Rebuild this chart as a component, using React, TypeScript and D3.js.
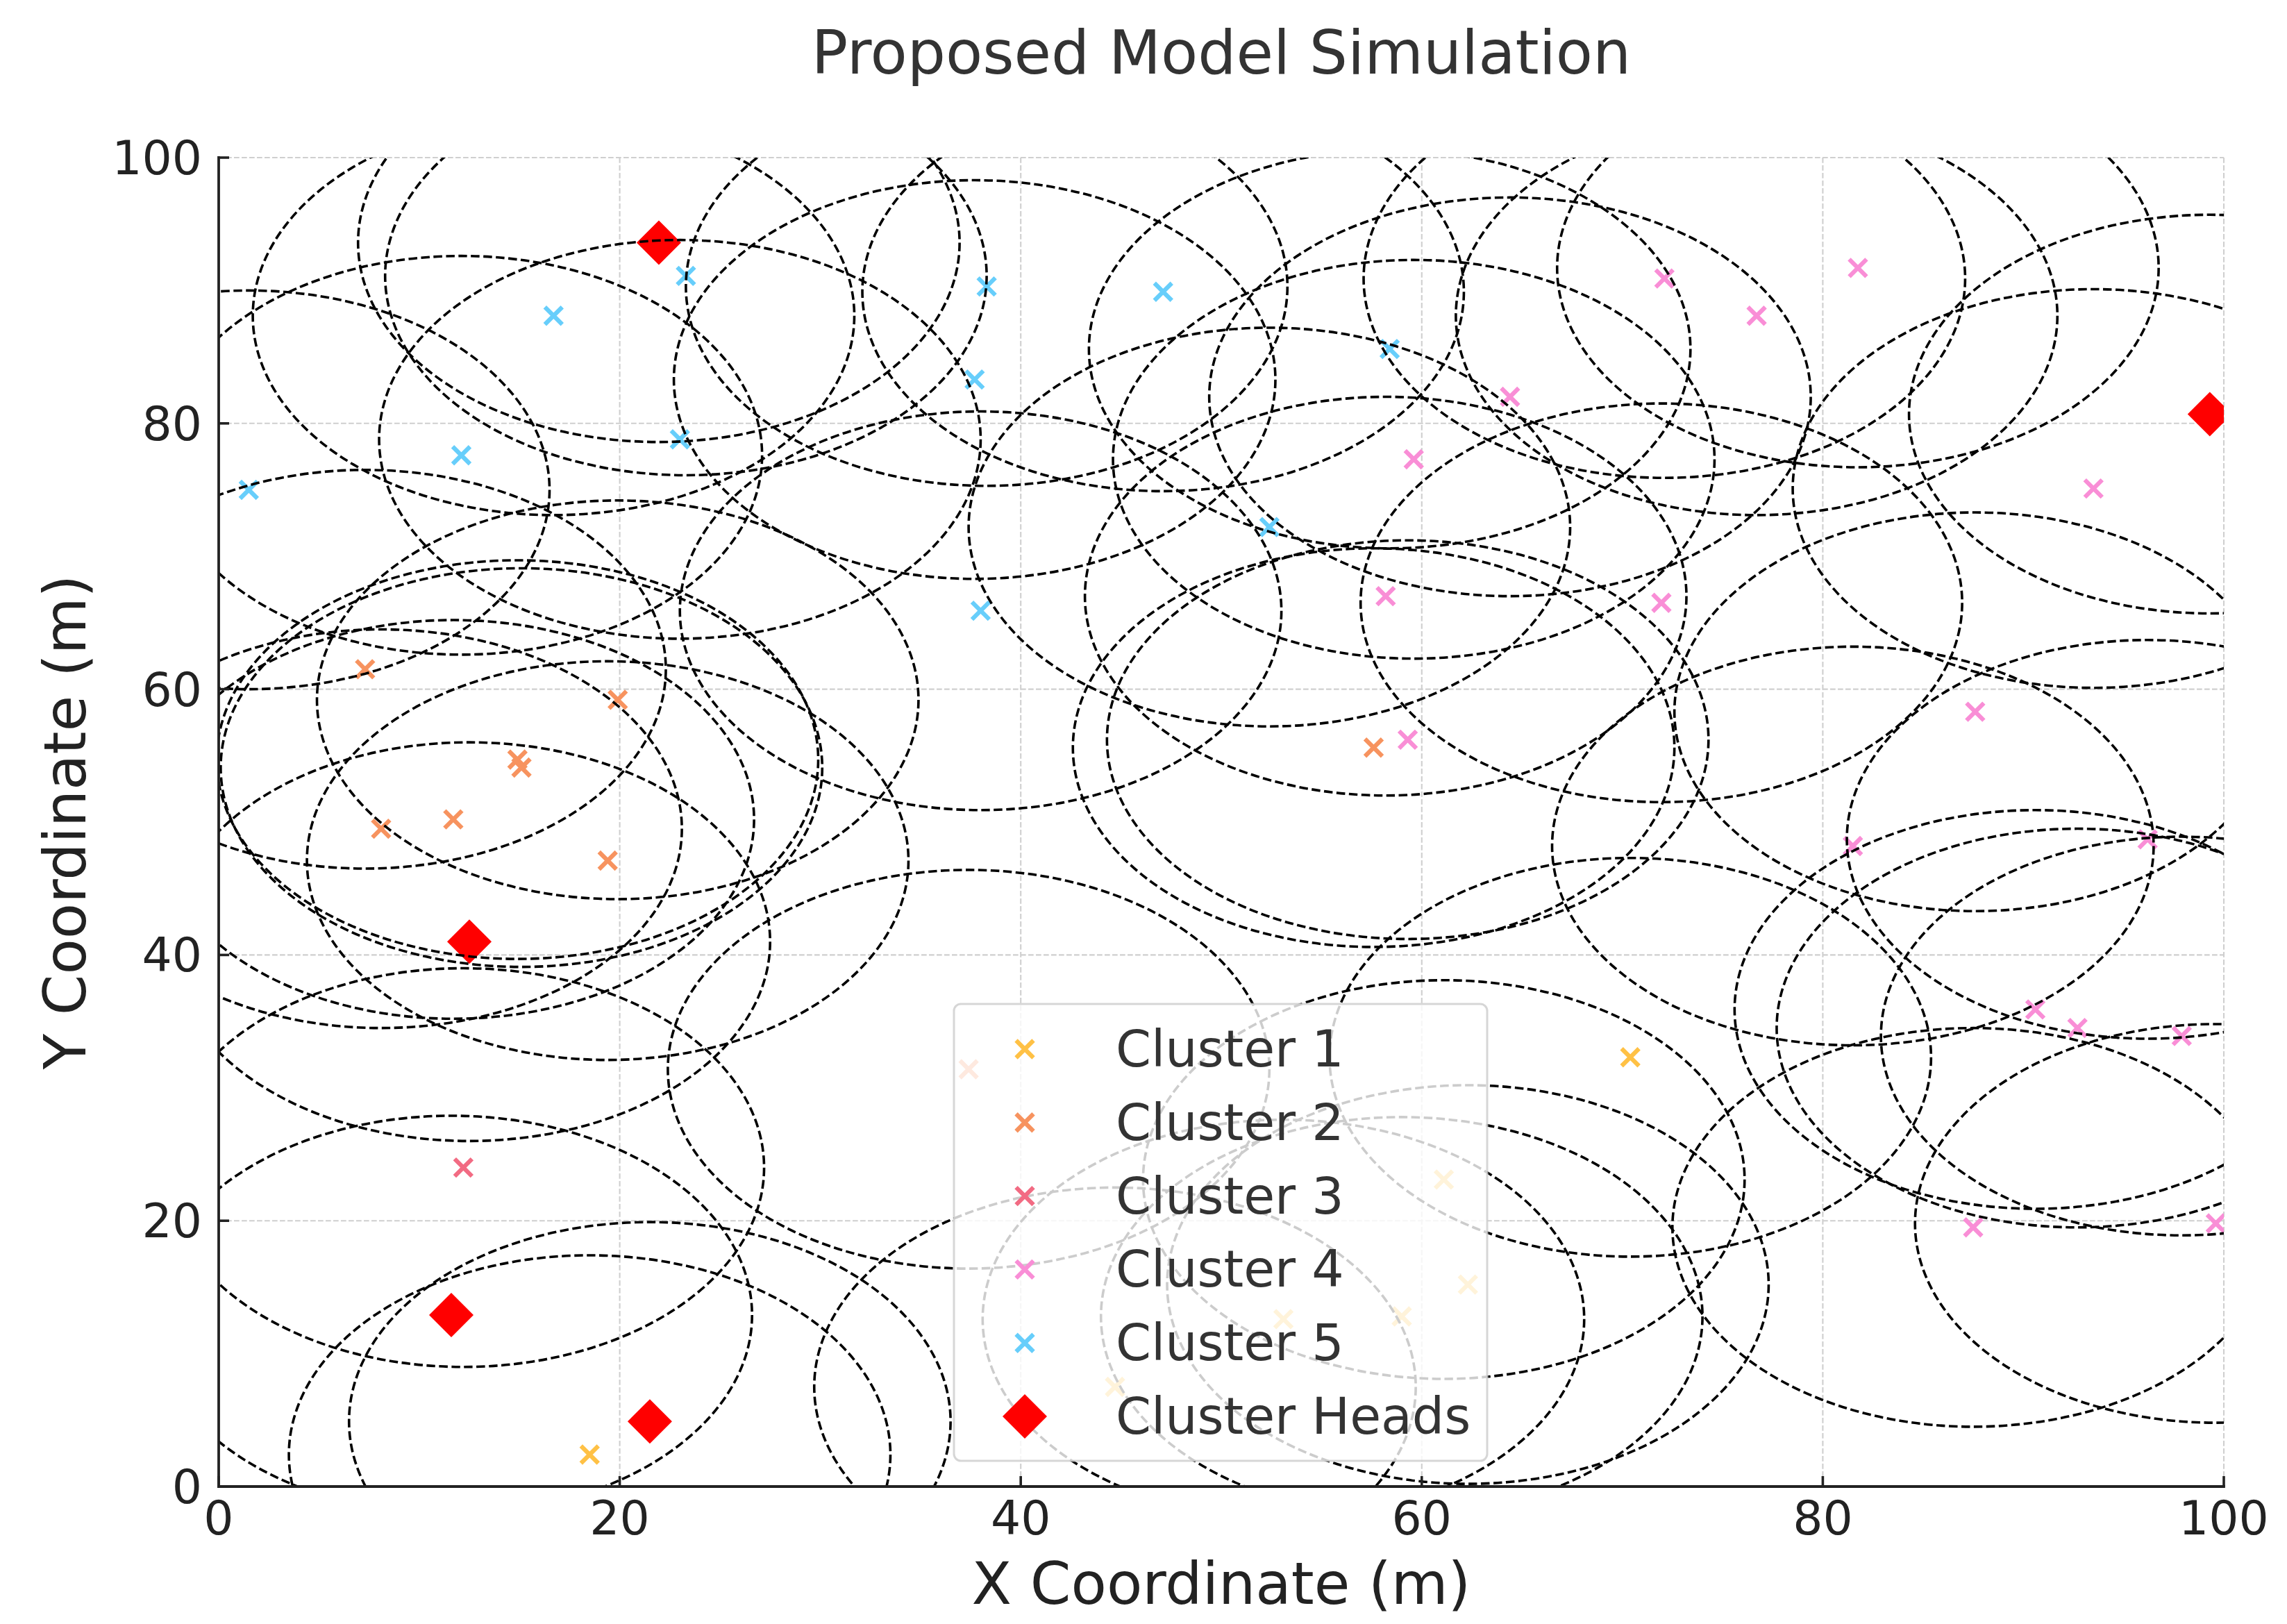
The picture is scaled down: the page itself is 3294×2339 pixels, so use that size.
import React, { useLayoutEffect } from "react";
import * as d3 from "d3";

// ---- Data ----
const clusterNames = ["Cluster 1", "Cluster 2", "Cluster 3", "Cluster 4", "Cluster 5"];
const clusterColors = ["#FFC145", "#F7935F", "#F26B83", "#F98ED6", "#67CEFB"];

const cluster1 = [
  [18.5, 2.4], [70.4, 32.3], [61.1, 23.1], [62.3, 15.2], [53.1, 12.6], [59.0, 12.8], [44.7, 7.5],
];
const cluster2 = [
  [7.3, 61.5], [19.9, 59.2], [14.9, 54.7], [15.1, 54.1], [8.1, 49.5], [11.7, 50.2], [19.4, 47.1],
  [57.6, 55.6], [37.4, 31.4],
];
const cluster3 = [[12.2, 24.0]];
const cluster4 = [
  [64.4, 82.0], [59.6, 77.3], [72.1, 90.9], [76.7, 88.1], [81.75, 91.7], [93.5, 75.1],
  [58.2, 67.0], [71.95, 66.5], [59.3, 56.2], [87.6, 58.3], [81.5, 48.2], [96.2, 48.7],
  [90.6, 35.9], [92.7, 34.5], [97.9, 33.9], [87.5, 19.5], [99.6, 19.8],
];
const cluster5 = [
  [1.5, 75.0], [12.1, 77.6], [16.7, 88.1], [23.3, 91.1], [23.0, 78.8], [38.3, 90.3],
  [37.7, 83.3], [47.1, 89.9], [58.4, 85.6], [52.4, 72.2], [38.0, 65.9],
];
const clusterHeads = [
  [21.95, 93.6], [99.3, 80.7], [12.5, 41.0], [11.6, 12.9], [21.5, 4.9],
];
const clusters = [cluster1, cluster2, cluster3, cluster4, cluster5];
const commRange = 15;
const xTicks = [0, 20, 40, 60, 80, 100];
const yTicks = [0, 20, 40, 60, 80, 100];

const W = 3294;
const H = 2339;
const left = 315, right = 3203, top = 227, bottom = 2141;
const FONT = "'DejaVu Sans', sans-serif";

export default function App() {
  useLayoutEffect(() => {
    document.body.style.margin = "0";
  }, []);

  const x = d3.scaleLinear().domain([0, 100]).range([left, right]);
  const y = d3.scaleLinear().domain([0, 100]).range([bottom, top]);
  const rx = x(commRange) - x(0);
  const ry = y(0) - y(commRange);

  const xMark = (cx: number, cy: number, color: string, key: string, s = 12.5) => (
    <path
      key={key}
      d={`M${cx - s},${cy - s}L${cx + s},${cy + s}M${cx - s},${cy + s}L${cx + s},${cy - s}`}
      stroke={color}
      strokeWidth={6.2}
      fill="none"
    />
  );
  const diamond = (cx: number, cy: number, key: string, s = 32) => (
    <path key={key} d={`M${cx},${cy - s}L${cx + s},${cy}L${cx},${cy + s}L${cx - s},${cy}Z`} fill="#FF0000" />
  );

  const allNodes = [...clusters.flat(), ...clusterHeads];

  const legendX = 1374, legendY = 1446, legendW = 768, legendH = 658;
  const rowY = (i: number) => 1511 + i * 105.8;

  return (
    <svg width={W} height={H} style={{ display: "block", background: "#fff" }} fontFamily={FONT}>
      <defs>
        <clipPath id="plotClip">
          <rect x={left} y={top} width={right - left} height={bottom - top} />
        </clipPath>
      </defs>
      <rect width={W} height={H} fill="#fff" />
      {/* grid */}
      <g stroke="#cfcfcf" strokeWidth={2.1} strokeDasharray="7.7 3.3">
        {xTicks.map((t) => (
          <line key={"gx" + t} x1={x(t)} x2={x(t)} y1={top} y2={bottom} />
        ))}
        {yTicks.map((t) => (
          <line key={"gy" + t} x1={left} x2={right} y1={y(t)} y2={y(t)} />
        ))}
      </g>
      <g clipPath="url(#plotClip)">
        {clusters.map((pts, ci) =>
          pts.map((p, i) => xMark(x(p[0]), y(p[1]), clusterColors[ci], `c${ci}-${i}`))
        )}
        {clusterHeads.map((p, i) => diamond(x(p[0]), y(p[1]), "h" + i))}
        <g fill="none" stroke="#000" strokeWidth={3.6} strokeDasharray="12.5 5.5">
          {allNodes.map((p, i) => (
            <ellipse key={"e" + i} cx={x(p[0])} cy={y(p[1])} rx={rx} ry={ry} />
          ))}
        </g>
      </g>
      {/* spines */}
      <g stroke="#222" strokeWidth={3.8}>
        <line x1={left} x2={left} y1={top - 1.9} y2={bottom + 1.9} />
        <line x1={left - 1.9} x2={right + 1.9} y1={bottom} y2={bottom} />
      </g>
      {/* ticks (inward) */}
      <g stroke="#222" strokeWidth={3.6}>
        {xTicks.map((t) => (
          <line key={"tx" + t} x1={x(t)} x2={x(t)} y1={bottom} y2={bottom - 15} />
        ))}
        {yTicks.map((t) => (
          <line key={"ty" + t} x1={left} x2={left + 15} y1={y(t)} y2={y(t)} />
        ))}
      </g>
      {/* tick labels */}
      <g fill="#222" fontSize={68}>
        {xTicks.map((t) => (
          <text key={"lx" + t} x={x(t)} y={2210} textAnchor="middle">
            {t}
          </text>
        ))}
        {yTicks.map((t) => (
          <text key={"ly" + t} x={291} y={y(t) + 24} textAnchor="end">
            {t}
          </text>
        ))}
      </g>
      {/* axis labels */}
      <text x={(left + right) / 2} y={2310} textAnchor="middle" fontSize={84} fill="#222">
        X Coordinate (m)
      </text>
      <text
        transform={`translate(123, ${(top + bottom) / 2}) rotate(-90)`}
        textAnchor="middle"
        fontSize={84}
        fill="#222"
      >
        Y Coordinate (m)
      </text>
      {/* title */}
      <text x={(left + right) / 2} y={106} textAnchor="middle" fontSize={87} fill="#333">
        Proposed Model Simulation
      </text>
      {/* legend */}
      <g>
        <rect
          x={legendX}
          y={legendY}
          width={legendW}
          height={legendH}
          rx={10}
          fill="#fff"
          fillOpacity={0.8}
          stroke="#cccccc"
          strokeOpacity={0.8}
          strokeWidth={3}
        />
        {clusterNames.map((name, i) => (
          <g key={"lg" + i}>
            {xMark(1476, rowY(i), clusterColors[i], "lm" + i)}
            <text x={1607} y={rowY(i) + 25} fontSize={73} fill="#333">
              {name}
            </text>
          </g>
        ))}
        {diamond(1476, rowY(5), "lmh")}
        <text x={1607} y={rowY(5) + 25} fontSize={73} fill="#333">
          Cluster Heads
        </text>
      </g>
    </svg>
  );
}
